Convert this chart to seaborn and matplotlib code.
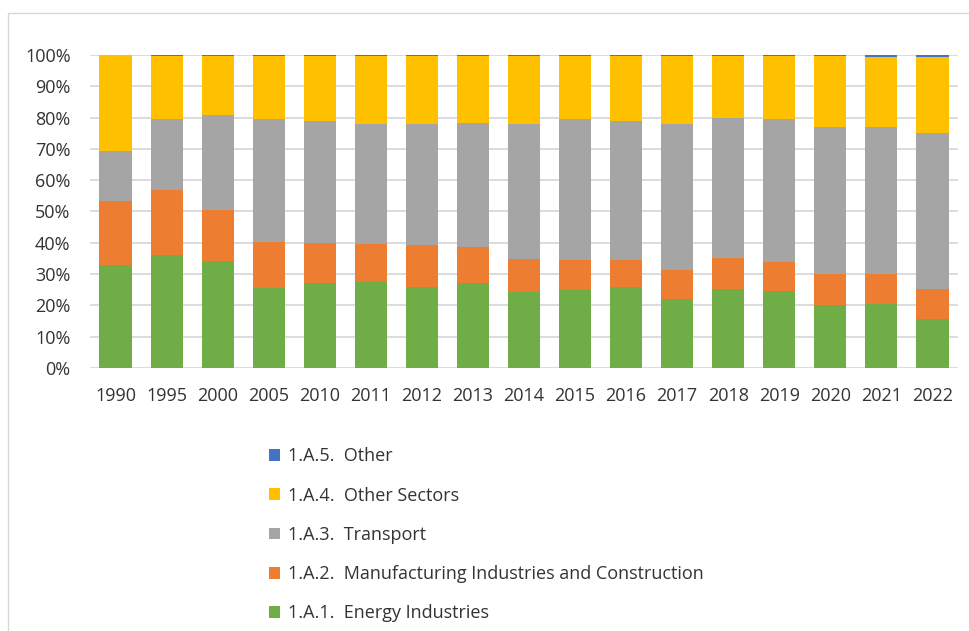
import matplotlib
matplotlib.use('Agg')
import matplotlib.pyplot as plt
import matplotlib.patches as mpatches
from matplotlib.ticker import PercentFormatter, MultipleLocator
import numpy as np
import seaborn as sns

years = ['1990', '1995', '2000', '2005', '2010', '2011', '2012', '2013', '2014',
         '2015', '2016', '2017', '2018', '2019', '2020', '2021', '2022']

# shares in % of total
energy = [32.9, 36.1, 34.2, 25.7, 27.0, 27.6, 25.9, 27.2, 24.2, 24.9, 25.9, 21.9, 25.2, 24.5, 20.1, 20.5, 15.6]
manufacturing = [20.5, 20.9, 16.4, 14.7, 12.9, 12.1, 13.4, 11.5, 10.6, 9.7, 8.7, 9.4, 10.0, 9.5, 10.0, 9.6, 9.6]
transport = [16.0, 22.4, 30.3, 39.0, 39.1, 38.4, 38.8, 39.7, 43.3, 44.8, 44.4, 46.8, 44.6, 45.4, 47.0, 47.0, 49.9]
other_sectors = [30.6, 20.2, 18.7, 20.2, 20.6, 21.5, 21.5, 21.2, 21.5, 20.2, 20.6, 21.5, 19.8, 20.2, 22.5, 22.4, 24.4]
other = [0.0, 0.4, 0.4, 0.4, 0.4, 0.4, 0.4, 0.4, 0.4, 0.4, 0.4, 0.4, 0.4, 0.4, 0.4, 0.5, 0.5]

series = [
    ('1.A.1.  Energy Industries', energy, '#70AD47'),
    ('1.A.2.  Manufacturing Industries and Construction', manufacturing, '#ED7D31'),
    ('1.A.3.  Transport', transport, '#A5A5A5'),
    ('1.A.4.  Other Sectors', other_sectors, '#FFC000'),
    ('1.A.5.  Other', other, '#4472C4'),
]

sns.set_style('white')
plt.rcParams['font.family'] = ['Open Sans', 'DejaVu Sans']

fig = plt.figure(figsize=(9.69, 6.31), dpi=100)
ax = fig.add_axes([90 / 969, 1 - 368 / 631, 868 / 969, 313 / 631])

vals = np.array([s[1] for s in series], dtype=float)
vals = vals / vals.sum(axis=0)
cum = np.cumsum(vals, axis=0)

# draw tallest stack first so lower segments sit on top
for i in range(len(series) - 1, -1, -1):
    label, _, color = series[i]
    sns.barplot(x=years, y=cum[i], color=color, saturation=1, width=0.63,
                linewidth=0, ax=ax, label=label)

ax.set_ylim(0, 1)
ax.yaxis.set_major_locator(MultipleLocator(0.1))
ax.yaxis.set_major_formatter(PercentFormatter(1.0, decimals=0))
ax.grid(axis='y', color='#D9D9D9', linewidth=1.3)
ax.set_axisbelow(True)
for sp in ax.spines.values():
    sp.set_visible(False)
ax.tick_params(axis='y', length=0, pad=14, labelsize=13, labelcolor='#333333')
ax.tick_params(axis='x', length=0, pad=14, labelsize=13, labelcolor='#333333')
ax.set_xlabel('')
ax.set_ylabel('')

handles, labels = ax.get_legend_handles_labels()
leg = ax.legend(handles, labels, loc='upper left',
                bbox_to_anchor=(253 / 969, 1 - 431 / 631),
                bbox_transform=fig.transFigure, frameon=False,
                fontsize=13, labelspacing=1.18, handlelength=0.62,
                handleheight=0.62, handletextpad=0.4, labelcolor='#333333')

fig.patches.append(mpatches.Rectangle((8 / 969, -0.05), 1.1, 1.05 - 13 / 631,
                                      transform=fig.transFigure, fill=False,
                                      edgecolor='#D9D9D9', linewidth=1))

fig.savefig('out.png', dpi=100)
